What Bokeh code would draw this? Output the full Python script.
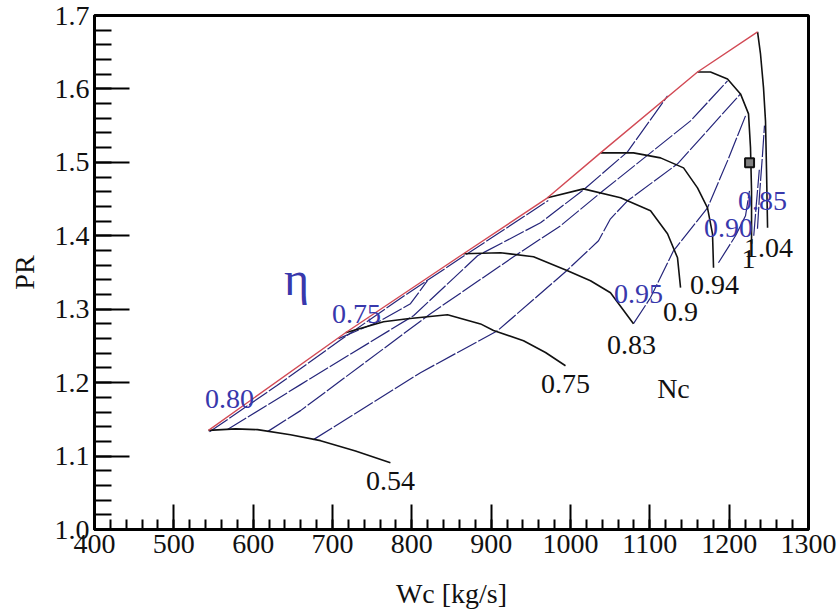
from bokeh.plotting import figure
from bokeh.models import FixedTicker, PrintfTickFormatter
from bokeh.core.properties import value
from bokeh.embed import file_html
from bokeh.resources import INLINE

# ---------------- data ----------------
# corrected speed lines Nc : Wc [kg/s] and PR
nc_054_w = [543.7, 577.7, 605.5, 647.0, 684.9, 729.0, 773.0]
nc_054_pr = [1.135, 1.137, 1.136, 1.129, 1.121, 1.107, 1.091]
nc_075_w = [716.4, 764.3, 794.6, 845.0, 886.6, 903.0, 940.8, 968.5, 993.7]
nc_075_pr = [1.268, 1.283, 1.287, 1.2925, 1.280, 1.271, 1.257, 1.241, 1.223]
nc_083_w = [865.1, 911.8, 953.4, 996.3, 1025.2, 1050.4, 1079.4]
nc_083_pr = [1.3755, 1.3769, 1.3714, 1.3524, 1.3388, 1.3224, 1.2803]
nc_090_w = [971.0, 1016.4, 1063.1, 1100.9, 1122.3, 1134.9, 1138.7]
nc_090_pr = [1.4517, 1.4639, 1.4517, 1.434, 1.4027, 1.370, 1.3293]
nc_094_w = [1037.8, 1079.4, 1113.5, 1142.5, 1160.1, 1172.7, 1179.0, 1180.3]
nc_094_pr = [1.5129, 1.5129, 1.5061, 1.4925, 1.4653, 1.4381, 1.4027, 1.3565]
nc_100_w = [1160.1, 1176.5, 1197.9, 1214.3, 1224.4, 1226.9, 1228.2, 1228.2]
nc_100_pr = [1.6231, 1.6231, 1.6136, 1.5932, 1.566, 1.5197, 1.4612, 1.3891]
nc_104_w = [1235.8, 1239.5, 1243.3, 1245.8, 1247.1, 1248.4]
nc_104_pr = [1.6776, 1.6476, 1.6014, 1.5565, 1.4884, 1.4109]

speed_names = ["0.54", "0.75", "0.83", "0.9", "0.94", "1", "1.04"]
speed_w = [nc_054_w, nc_075_w, nc_083_w, nc_090_w, nc_094_w, nc_100_w, nc_104_w]
speed_pr = [nc_054_pr, nc_075_pr, nc_083_pr, nc_090_pr, nc_094_pr, nc_100_pr, nc_104_pr]
speed_label_w = [773.1, 993.7, 1076.9, 1138.7, 1181.5, 1224.4, 1249.6]
speed_label_pr = [1.0667, 1.1986, 1.2517, 1.2966, 1.3333, 1.3687, 1.3837]

# efficiency lines (eta)
eta_0_w = [707.6, 760.5, 798.3, 819.7]
eta_0_pr = [1.2599, 1.2843, 1.3075, 1.3388]
eta_1_w = [545.0, 630.0, 710.0, 790.0, 865.0, 972.0]
eta_1_pr = [1.133, 1.196, 1.258, 1.318, 1.372, 1.448]
eta_2_w = [567.6, 659.7, 802.1, 882.8, 962.2, 1016.4, 1071.8, 1122.3]
eta_2_pr = [1.1361, 1.1973, 1.2911, 1.3728, 1.4177, 1.4626, 1.5143, 1.5905]
eta_3_w = [618.1, 659.7, 823.5, 928.2, 987.4, 1037.8, 1088.2, 1151.3, 1197.9]
eta_3_pr = [1.1333, 1.1619, 1.2939, 1.3714, 1.4136, 1.4585, 1.5020, 1.5565, 1.6109]
eta_4_w = [676.0, 810.9, 908.0, 993.7, 1035.3, 1050.4, 1071.8, 1134.9, 1214.3]
eta_4_pr = [1.1224, 1.2136, 1.2707, 1.3510, 1.3932, 1.4231, 1.4476, 1.4980, 1.5932]
eta_5_w = [1079.4, 1100.8, 1129.8, 1172.7, 1197.9, 1220.6]
eta_5_pr = [1.2803, 1.3156, 1.3796, 1.4381, 1.5020, 1.5633]
eta_6_w = [1186.5, 1208.0, 1220.6, 1225.6]
eta_6_pr = [1.3633, 1.4000, 1.4272, 1.4612]
eta_7_w = [1235.7, 1238.2, 1242.0, 1244.5]
eta_7_pr = [1.4095, 1.4550, 1.5100, 1.5500]
eta_8_w = [1231.0, 1234.0, 1238.0]
eta_8_pr = [1.400, 1.440, 1.490]
eta_w = [eta_0_w, eta_1_w, eta_2_w, eta_3_w, eta_4_w, eta_5_w, eta_6_w, eta_7_w, eta_8_w]
eta_pr = [eta_0_pr, eta_1_pr, eta_2_pr, eta_3_pr, eta_4_pr, eta_5_pr, eta_6_pr, eta_7_pr, eta_8_pr]

eta_names = ["\u03b7", "0.75", "0.80", "0.95", "0.90", "0.85"]
eta_label_w = [654.6, 730.3, 570.2, 1085.7, 1199.2, 1242.0]
eta_label_pr = [1.3415, 1.2939, 1.1782, 1.3211, 1.4109, 1.4476]

nc_title = ["Nc"]
nc_title_w = [1129.8]
nc_title_pr = [1.1918]

design_w = [1225.7]
design_pr = [1.4993]

x_ticks = [400, 500, 600, 700, 800, 900, 1000, 1100, 1200, 1300]
y_ticks = [1.0, 1.1, 1.2, 1.3, 1.4, 1.5, 1.6, 1.7]

# surge line joins the first point of every speed line
surge_w = [w[0] for w in speed_w]
surge_pr = [r[0] for r in speed_pr]

# ---------------- figure ----------------
FONT = "Liberation Serif"
p = figure(width=840, height=615, x_range=(400, 1300), y_range=(1.0, 1.7),
           output_backend="svg", toolbar_location=None,
           min_border_left=94, min_border_right=32, min_border_top=15,
           min_border_bottom=86)
p.background_fill_color = "white"
p.border_fill_color = "white"
p.xgrid.visible = False
p.ygrid.visible = False
p.outline_line_color = "black"
p.outline_line_width = 3
p.outline_line_alpha = 1.0

x_minor = [400 + 20 * i for i in range(46)]
y_minor = [round(1.0 + 0.02 * i, 2) for i in range(36)]
p.xaxis.ticker = FixedTicker(ticks=x_ticks, minor_ticks=x_minor)
p.yaxis.ticker = FixedTicker(ticks=y_ticks, minor_ticks=y_minor)
p.yaxis.formatter = PrintfTickFormatter(format="%.1f")

for ax in (p.xaxis, p.yaxis):
    ax.axis_line_width = 3
    ax.axis_line_color = "black"
    ax.major_tick_out = 0
    ax.minor_tick_out = 0
    ax.major_tick_line_width = 2
    ax.minor_tick_line_width = 2
    ax.major_tick_line_color = "black"
    ax.minor_tick_line_color = "black"
    ax.major_label_text_font = FONT
    ax.major_label_text_font_size = "28px"
    ax.major_label_text_color = "#111111"
    ax.axis_label_text_font = FONT
    ax.axis_label_text_font_size = "28px"
    ax.axis_label_text_font_style = "normal"
    ax.axis_label_text_color = "#111111"

p.xaxis.major_tick_in = 25
p.xaxis.minor_tick_in = 10
p.yaxis.major_tick_in = 35
p.yaxis.minor_tick_in = 17
p.xaxis.major_label_standoff = 5
p.yaxis.major_label_standoff = 5
p.xaxis.axis_label = "Wc [kg/s]"
p.yaxis.axis_label = "PR"
p.xaxis.axis_label_standoff = 22
p.yaxis.axis_label_standoff = 12

# efficiency lines
for w, r in zip(eta_w, eta_pr):
    p.line(w, r, line_color="#25257a", line_width=1.2, line_dash="22 2")

# speed lines
for w, r in zip(speed_w, speed_pr):
    p.line(w, r, line_color="#111111", line_width=1.6)

# surge line
p.line(surge_w, surge_pr, line_color="#d24a55", line_width=1.4)

# design point
p.scatter(design_w, design_pr, marker="square", size=9, fill_color="#808080",
          line_color="#111111", line_width=2)

# labels
p.text(x=speed_label_w, y=speed_label_pr, text=speed_names,
       text_font=value(FONT), text_font_size="28px", text_color="#111111",
       text_align="center", text_baseline="middle")
p.text(x=nc_title_w, y=nc_title_pr, text=nc_title,
       text_font=value(FONT), text_font_size="28px", text_color="#111111",
       text_align="center", text_baseline="middle")
p.text(x=eta_label_w[1:], y=eta_label_pr[1:], text=eta_names[1:],
       text_font=value(FONT), text_font_size="28px", text_color="#3838ac",
       text_align="center", text_baseline="middle")
p.text(x=eta_label_w[:1], y=eta_label_pr[:1], text=eta_names[:1],
       text_font=value(FONT), text_font_size="48px", text_color="#3838ac",
       text_align="center", text_baseline="middle")

open("out.html", "w").write(file_html(p, INLINE))
